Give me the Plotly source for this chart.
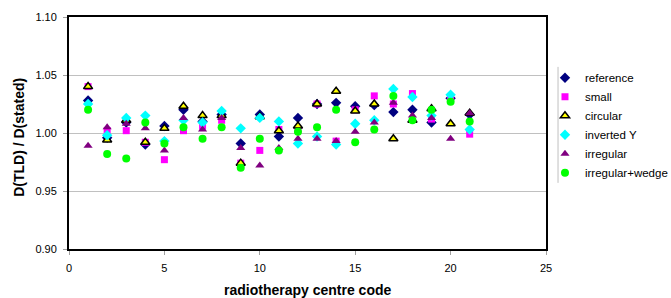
import plotly.graph_objects as go

centres = list(range(1, 22))

reference = [1.028, 0.996, 1.009, 0.990, 1.006, 1.020, 1.010, 1.016, 0.991, 1.016, 0.997,
             1.013, 1.025, 1.026, 1.023, 1.024, 1.018, 1.020, 1.009, 1.030, 1.016]
small = [1.040, 1.002, 1.002, 0.992, 0.977, 1.002, 1.006, 1.011, 0.974, 0.985, 1.003,
         1.003, 1.025, 0.993, 1.020, 1.032, 1.025, 1.034, 1.012, 1.030, 0.999]
circular = [1.040, 0.994, 1.011, 0.992, 1.004, 1.023, 1.015, 1.015, 0.974, 1.014, 1.002,
            1.006, 1.025, 1.036, 1.019, 1.025, 0.995, 1.011, 1.021, 1.008, 1.017]
inverted_y = [1.025, 0.998, 1.013, 1.015, 0.993, 1.011, 1.009, 1.019, 1.004, 1.013, 1.010,
              0.991, 0.997, 0.990, 1.008, 1.011, 1.038, 1.031, 1.015, 1.033, 1.003]
irregular = [0.989, 1.005, 1.008, 1.004, 0.985, 1.013, 1.003, 1.013, 0.987, 0.972, 0.987,
             0.995, 0.995, 0.993, 1.001, 1.009, 1.026, 1.015, 1.013, 0.995, 1.017]
irregular_wedge = [1.020, 0.982, 0.978, 1.009, 0.991, 1.005, 0.995, 1.005, 0.970, 0.995, 0.985,
                   1.001, 1.005, 1.020, 0.992, 1.003, 1.032, 1.011, 1.020, 1.027, 1.010]

series = [
    ("reference", reference, dict(symbol="diamond", color="#000080", size=8)),
    ("small", small, dict(symbol="square", color="#FF00FF", size=7)),
    ("circular", circular, dict(symbol="triangle-up", color="#FFFF00", size=8,
                                line=dict(color="black", width=1.5))),
    ("inverted Y", inverted_y, dict(symbol="diamond", color="#00FFFF", size=8)),
    ("irregular", irregular, dict(symbol="triangle-up", color="#800080", size=8)),
    ("irregular+wedge", irregular_wedge, dict(symbol="circle", color="#00FF00", size=8)),
]

fig = go.Figure()
for name, vals, marker in series:
    fig.add_trace(go.Scatter(x=centres, y=vals, mode="markers", name=name, marker=marker))

fig.update_layout(
    width=671, height=298,
    margin=dict(l=69, r=125, t=17, b=49, autoexpand=False),
    paper_bgcolor="white", plot_bgcolor="white",
    font=dict(family="Liberation Sans, Arial", size=11, color="black"),
    showlegend=True,
    legend=dict(xref="container", yref="container", x=0.8122, y=0.788,
                xanchor="left", yanchor="top",
                font=dict(size=11.5), tracegroupgap=0, itemwidth=30,
                bgcolor="rgba(0,0,0,0)"),
)
fig.update_xaxes(range=[0, 25], tickvals=[0, 5, 10, 15, 20, 25], showgrid=False,
                 zeroline=False, showline=True, linecolor="black", linewidth=2, mirror=True,
                 ticks="outside", ticklen=4, tickcolor="#A0A0A0", ticklabelstandoff=4)
fig.update_yaxes(range=[0.90, 1.10], tickvals=[0.90, 0.95, 1.00, 1.05, 1.10], tickformat=".2f",
                 showgrid=True, gridcolor="#C0C0C0", gridwidth=1, zeroline=False,
                 showline=True, linecolor="black", linewidth=2, mirror=True,
                 ticks="outside", ticklen=4, tickcolor="#A0A0A0", ticklabelstandoff=4)
fig.add_annotation(text="<b>radiotherapy centre code</b>", xref="paper", yref="paper",
                   x=0.5, y=(249 - 290) / 232, xanchor="center", yanchor="middle",
                   showarrow=False, font=dict(size=14))
fig.add_annotation(text="<b>D(TLD) / D(stated)</b>", xref="paper", yref="paper",
                   x=-0.105, y=0.483, xanchor="center", yanchor="middle", textangle=-90,
                   showarrow=False, font=dict(size=14))
fig.add_shape(type="line", xref="paper", yref="paper", x0=1.0252, x1=1.0252, y0=0.285, y1=0.785,
              line=dict(color="#C0C0C0", width=1))

fig.write_html("out.html", config={"displayModeBar": False},
               post_script="document.body.style.margin='0';document.body.style.overflow='hidden';")
